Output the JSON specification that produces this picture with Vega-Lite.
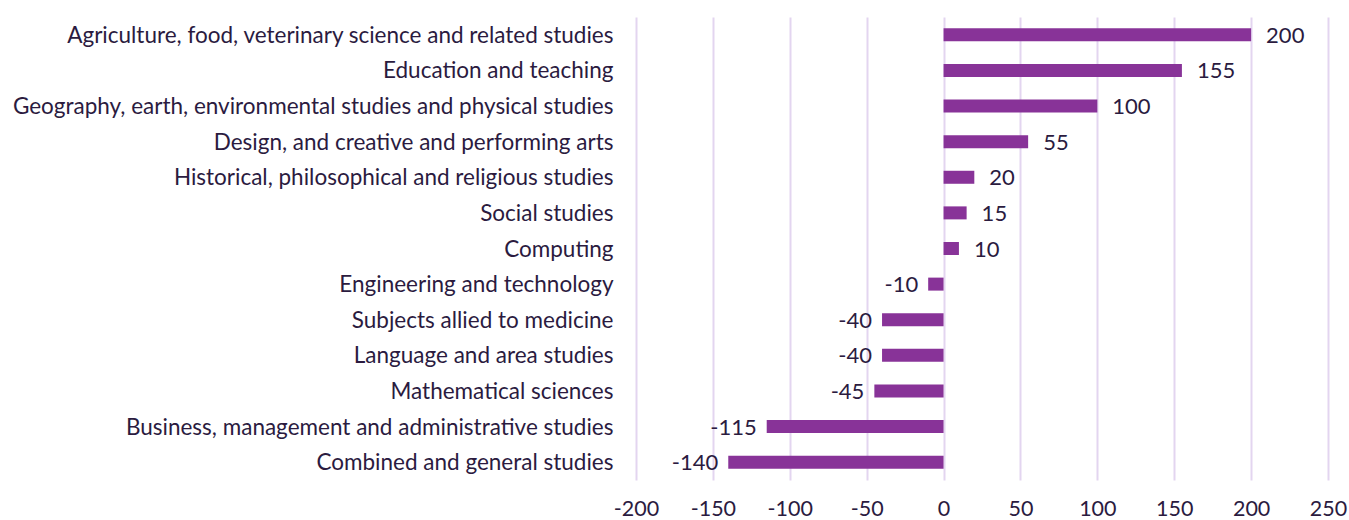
{
  "$schema": "https://vega.github.io/schema/vega-lite/v6.json",
  "autosize": "none",
  "padding": {"left": 636, "top": 17, "right": 21, "bottom": 40},
  "width": 692,
  "height": 463,
  "background": "white",
  "config": {
    "view": {"stroke": null},
    "font": "Lato"
  },
  "data": {
    "values": [
      {"subject": "Agriculture, food, veterinary science and related studies", "value": 200},
      {"subject": "Education and teaching", "value": 155},
      {"subject": "Geography, earth, environmental studies and physical studies", "value": 100},
      {"subject": "Design, and creative and performing arts", "value": 55},
      {"subject": "Historical, philosophical and religious studies", "value": 20},
      {"subject": "Social studies", "value": 15},
      {"subject": "Computing", "value": 10},
      {"subject": "Engineering and technology", "value": -10},
      {"subject": "Subjects allied to medicine", "value": -40},
      {"subject": "Language and area studies", "value": -40},
      {"subject": "Mathematical sciences", "value": -45},
      {"subject": "Business, management and administrative studies", "value": -115},
      {"subject": "Combined and general studies", "value": -140}
    ]
  },
  "encoding": {
    "y": {
      "field": "subject",
      "type": "nominal",
      "sort": null,
      "scale": {"paddingInner": 0.6, "paddingOuter": 0.3},
      "axis": {
        "title": null,
        "domain": false,
        "ticks": false,
        "labelPadding": 23,
        "labelLimit": 700,
        "labelFontSize": 22.5,
        "labelColor": "#2b1b3f",
        "labelFont": "Lato",
        "labelOffset": 1
      }
    },
    "x": {
      "field": "value",
      "type": "quantitative",
      "scale": {"domain": [-200, 250], "nice": false, "zero": true},
      "axis": {
        "title": null,
        "values": [-200, -150, -100, -50, 0, 50, 100, 150, 200, 250],
        "labelExpr": "replace(datum.label, '−', '-')",
        "labelFlush": false,
        "labelOverlap": false,
        "domain": false,
        "ticks": false,
        "grid": true,
        "gridColor": "#e3d5f0",
        "gridWidth": 2,
        "labelPadding": 18,
        "labelFontSize": 21.5,
        "labelColor": "#2b1b3f",
        "labelFont": "Lato"
      }
    }
  },
  "layer": [
    {
      "mark": {"type": "bar", "color": "#883398", "size": 13}
    },
    {
      "transform": [{"filter": "datum.value > 0"}],
      "mark": {"type": "text", "align": "left", "baseline": "middle", "dx": 15, "dy": 1, "fontSize": 22, "color": "#2b1b3f", "font": "Lato"},
      "encoding": {"text": {"field": "value", "type": "nominal"}}
    },
    {
      "transform": [{"filter": "datum.value < 0"}],
      "mark": {"type": "text", "align": "right", "baseline": "middle", "dx": -10, "dy": 1, "fontSize": 22, "color": "#2b1b3f", "font": "Lato"},
      "encoding": {"text": {"field": "value", "type": "nominal"}}
    }
  ]
}
